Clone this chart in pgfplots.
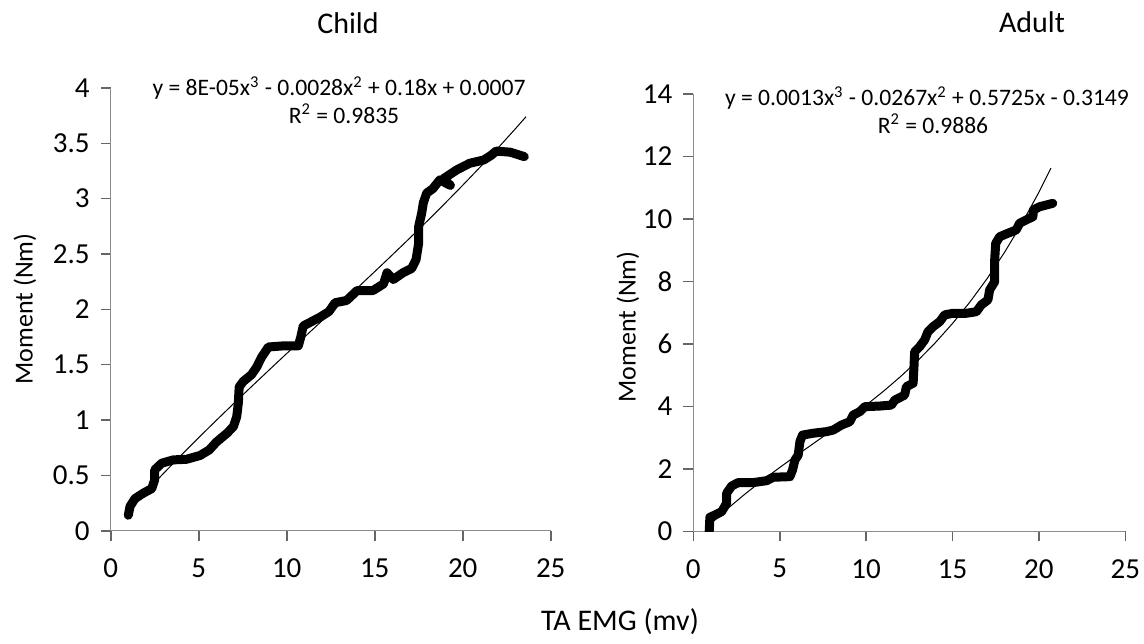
\documentclass[border=0pt]{standalone}
\usepackage{fontspec}
\setmainfont{Carlito}
\usepackage{pgfplots}
\pgfplotsset{compat=1.18}
\pgfplotsset{mystyle/.style={
  scale only axis,
  axis x line*=bottom, axis y line*=left,
  axis line style={color=gray!90, line width=0.7pt},
  tick align=outside,
  major tick length=5pt,
  xtick style={gray!80!black, line width=0.8pt},
  ytick style={gray!80!black, line width=0.8pt},
  xmin=0, xmax=25, xtick={0,5,10,15,20,25},
  ticklabel style={font=\fontsize{14.5}{16}\selectfont, color=black},
  xticklabel style={yshift=-5.5pt},
  yticklabel style={xshift=-2pt},
  /pgf/number format/assume math mode=true,
}}
\begin{document}
\begin{tikzpicture}
\path[use as bounding box] (0,0) rectangle (572pt,321.5pt);
% Left (Child)
\begin{axis}[mystyle, at={(55.35pt,56.15pt)}, anchor=south west,
  width=220pt, height=221.35pt,
  ymin=0, ymax=4, ytick={0,0.5,1,1.5,2,2.5,3,3.5,4}]
\addplot[black, line width=4.5pt, line join=round, line cap=round] coordinates {
(1.0,0.14) (1.1,0.22) (1.38,0.29) (1.86,0.34) (2.33,0.38) (2.5,0.46) (2.5,0.55)
(2.9,0.61) (3.56,0.64) (4.3,0.645) (5.08,0.68) (5.6,0.73) (6.0,0.80) (6.6,0.88)
(6.97,0.94) (7.16,1.03) (7.25,1.15) (7.3,1.30) (7.54,1.35) (8.0,1.41) (8.3,1.48)
(8.58,1.57) (8.96,1.66) (9.8,1.67) (10.66,1.67) (10.8,1.75) (10.94,1.85) (11.3,1.88)
(11.9,1.93) (12.4,1.98) (12.75,2.06) (13.4,2.08) (13.8,2.14) (14.0,2.17) (14.9,2.17)
(15.5,2.23) (15.7,2.33) (16.06,2.27) (16.6,2.33) (17.1,2.37) (17.35,2.45) (17.5,2.60)
(17.5,2.75) (17.67,2.87) (17.76,2.96) (17.95,3.05) (18.3,3.09) (18.7,3.17) (19.3,3.12)
(18.9,3.18) (19.66,3.26) (20.4,3.32) (21.2,3.35) (21.6,3.39) (21.9,3.43) (22.7,3.42)
(23.3,3.39) (23.5,3.38)
};
\addplot[black, line width=0.5pt] coordinates {
(1,0.178) (2,0.350) (3,0.518) (4,0.681) (5,0.841) (6,0.997) (7,1.151) (8,1.302)
(9,1.452) (10,1.601) (11,1.748) (12,1.896) (13,2.043) (14,2.191) (15,2.341)
(16,2.492) (17,2.645) (18,2.800) (19,2.959) (20,3.121) (21,3.287) (22,3.457)
(23,3.633) (23.6,3.741)
};
\end{axis}
% Right (Adult)
\begin{axis}[mystyle, at={(346.65pt,55.85pt)}, anchor=south west,
  width=216pt, height=218.65pt,
  ymin=0, ymax=14, ytick={0,2,4,6,8,10,12,14}]
\addplot[black, line width=4.5pt, line join=round, line cap=round] coordinates {
(0.92,0) (0.96,0.45) (1.25,0.52) (1.64,0.63) (1.93,0.90) (1.93,1.22) (2.22,1.45)
(2.6,1.56) (3.47,1.56) (4.24,1.62) (4.62,1.73) (5.59,1.75) (5.74,1.96) (5.88,2.28)
(6.07,2.44) (6.17,2.87) (6.32,3.08) (6.94,3.14) (7.7,3.19) (8.09,3.24) (8.57,3.40)
(9.06,3.51) (9.25,3.72) (9.63,3.83) (9.92,3.99) (10.79,4.01) (11.46,4.04) (11.66,4.2)
(12.23,4.36) (12.33,4.63) (12.72,4.74) (12.77,5.27) (12.81,5.75) (13.1,5.91) (13.39,6.13)
(13.58,6.39) (13.87,6.55) (14.26,6.71) (14.55,6.93) (15.03,6.98) (15.8,6.98) (16.38,7.03)
(16.67,7.25) (17.05,7.41) (17.15,7.73) (17.44,7.99) (17.44,8.69) (17.5,9.22) (17.73,9.43)
(18.11,9.52) (18.69,9.65) (18.88,9.86) (19.27,9.97) (19.65,10.07) (19.69,10.29)
(20.04,10.39) (20.8,10.5)
};
\addplot[black, line width=0.5pt] coordinates {
(1,0.233) (2,0.734) (3,1.197) (4,1.631) (5,2.043) (6,2.440) (7,2.830) (8,3.222)
(9,3.623) (10,4.040) (11,4.482) (12,4.957) (13,5.471) (14,6.034) (15,6.653)
(16,7.335) (17,8.088) (18,8.921) (19,9.841) (20,10.855) (20.7,11.63)
};
\end{axis}
% Texts
\node[font=\fontsize{15}{18}\selectfont] at (174pt,310pt) {Child};
\node[font=\fontsize{15}{18}\selectfont] at (516pt,310.5pt) {Adult};
\node[font=\fontsize{15}{18}\selectfont] at (310pt,10.5pt) {TA EMG (mv)};
\node[font=\fontsize{13}{16}\selectfont, rotate=90] at (12.5pt,167pt) {Moment (Nm)};
\node[font=\fontsize{13}{16}\selectfont, rotate=90] at (314pt,158pt) {Moment (Nm)};
\node[font=\fontsize{11.8}{14}\selectfont] at (169.5pt,277.5pt) {y = 8E-05x\textsuperscript{3} - 0.0028x\textsuperscript{2} + 0.18x + 0.0007};
\node[font=\fontsize{11.8}{14}\selectfont] at (172pt,264.5pt) {R\textsuperscript{2} = 0.9835};
\node[font=\fontsize{11.8}{14}\selectfont] at (463.5pt,272.5pt) {y = 0.0013x\textsuperscript{3} - 0.0267x\textsuperscript{2} + 0.5725x - 0.3149};
\node[font=\fontsize{11.8}{14}\selectfont] at (466.5pt,259.5pt) {R\textsuperscript{2} = 0.9886};
\end{tikzpicture}
\end{document}
